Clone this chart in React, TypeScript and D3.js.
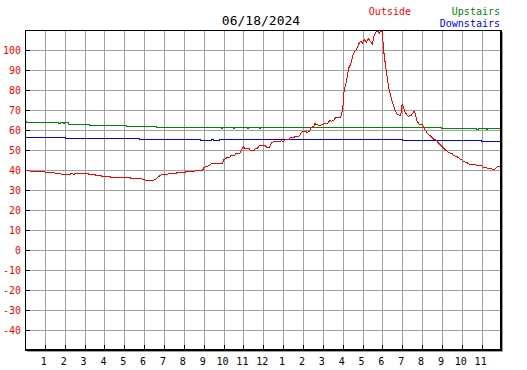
import React from "react";
import * as d3 from "d3";

const TITLE = "06/18/2024";
const hourLabels = ["1","2","3","4","5","6","7","8","9","10","11","12","1","2","3","4","5","6","7","8","9","10","11"];
const yTicks = [100, 90, 80, 70, 60, 50, 40, 30, 20, 10, 0, -10, -20, -30, -40];

// [hour of day, °F]
const outside: [number, number][] = [
  [0,39.8],[0.25,39.8],[0.3,39.2],[1.0,39.2],[1.05,38.7],[1.5,38.7],[1.55,38.2],[1.8,38.2],[1.85,37.7],[2.2,37.7],
  [2.3,38.2],[2.4,38.2],[2.45,37.7],[2.5,38.2],[3.2,38.2],[3.25,37.7],[3.55,37.7],[3.6,37.2],[3.85,37.2],[3.9,36.7],
  [4.3,36.7],[4.35,36.2],[5.3,36.2],[5.35,35.7],[5.9,35.7],[5.95,35.2],[6.05,35.2],[6.1,34.7],[6.4,34.7],[6.5,35.2],
  [6.6,35.7],[6.7,36.7],[6.85,37.7],[7.1,38.0],[7.3,38.3],[7.6,38.3],[7.65,38.8],[8.05,38.8],[8.1,39.3],[8.55,39.3],
  [8.6,40],[8.95,40],[9.0,41.2],[9.1,41.8],[9.3,42.5],[9.4,43.5],[9.7,43.5],[9.8,43.2],[9.95,43.2],[10.0,45.2],
  [10.15,46.2],[10.3,46.2],[10.35,47.2],[10.55,47.2],[10.6,48.3],[10.8,48.3],[10.9,50],[11.0,51.7],[11.1,50.8],[11.3,50.8],
  [11.35,49.8],[11.55,49.8],[11.6,50.8],[11.7,50.8],[11.8,52.5],[12.0,52.5],[12.1,52.2],[12.2,51.3],[12.3,51.3],[12.4,53.5],
  [12.5,54.2],[12.8,54.2],[12.9,54.7],[12.95,54.7],[13.0,54.2],[13.1,55.3],[13.3,55.3],[13.35,56.3],[13.55,56.3],[13.6,57],
  [13.8,57],[13.9,58.5],[14.0,59.5],[14.15,59.5],[14.2,59.0],[14.3,59.2],[14.4,61],[14.55,62.2],[14.6,63.3],[14.7,62.8],
  [14.8,62.5],[15.0,62.8],[15.1,63.3],[15.25,63.3],[15.35,65],[15.45,64.5],[15.55,65],[15.65,66.5],[15.9,66.5],[16.0,70.3],
  [16.07,79.5],[16.2,85],[16.3,91],[16.4,93],[16.5,97],[16.6,99.5],[16.7,100.5],[16.8,103],[16.9,104.5],[17.0,103.7],
  [17.1,105.3],[17.2,104],[17.3,105.8],[17.4,104.5],[17.5,103],[17.58,107],[17.68,109.2],[17.8,109.2],[17.85,108.7],[17.93,109.6],
  [18.0,109.6],[18.05,101],[18.15,93],[18.25,86],[18.33,81],[18.4,78],[18.5,74],[18.65,70],[18.75,68],[18.85,67.5],
  [18.92,67.5],[19.0,73.3],[19.05,72],[19.15,69],[19.3,67],[19.45,67.5],[19.6,69.5],[19.65,68.3],[19.75,64.5],[19.85,63],
  [20.0,63],[20.1,61],[20.3,58],[20.4,57.3],[20.6,55.5],[20.7,55.3],[20.8,54],[21.0,52],[21.2,50],[21.35,48.8],
  [21.5,48.5],[21.6,47.2],[21.75,47],[21.9,45.7],[22.0,45.3],[22.1,44.3],[22.25,44],[22.35,43.2],[22.6,42.7],[23.0,42.5],
  [23.05,41.7],[23.25,41.2],[23.3,40.8],[23.5,40.7],[23.6,40.3],[23.7,40.8],[23.8,41.8],[24.0,42]
];

const upstairs: [number, number][] = [
  [0,64.2],[0.1,63.7],[1.7,63.2],[1.78,63.7],[1.92,63.2],[1.98,63.7],[2.2,63.0],[3.25,62.5],[3.4,62.3],[5.1,61.8],
  [6.6,61.3],[9.9,60.8],[9.97,61.3],[10.5,60.8],[10.57,61.3],[11.2,60.8],[11.27,61.3],[11.8,60.8],[11.87,61.3],
  [21.0,60.8],[22.75,60.3],[22.82,60.8],[23.25,60.3],[23.32,60.8],[24,60.8]
];

const downstairs: [number, number][] = [
  [0,56.3],[2.05,55.8],[2.15,56.1],[2.22,55.8],[5.75,55.3],[8.85,54.8],[9.4,55.3],[9.5,54.8],[9.8,55.3],
  [19.0,54.8],[23.0,54.3],[24,54.3]
];

const W = 527, H = 370;
const FONT = "'DejaVu Sans Mono', monospace";

export default function App() {
  const x = d3.scaleLinear().domain([0, 24]).range([25, 501.5]);
  const y = d3.scaleLinear().domain([-50, 110]).range([350.3, 30.3]);
  const px = (v: number) => Math.round(v) + 0.5;

  const line = d3.line<[number, number]>().x(d => x(d[0])).y(d => y(d[1]));
  const stepLine = d3.line<[number, number]>().x(d => x(d[0])).y(d => y(d[1])).curve(d3.curveStepAfter);

  const hours = d3.range(1, 24);
  const gridVals = d3.range(-40, 110, 10);

  return (
    <svg width={W} height={H} style={{ position: "absolute", left: 0, top: 0, background: "#fff" }}>
      <rect x={0} y={0} width={W} height={H} fill="#fff" />
      {/* grid */}
      <g stroke="#a0a0a0" strokeWidth={1} shapeRendering="crispEdges">
        {hours.map(h => (
          <line key={"v" + h} x1={px(x(h))} x2={px(x(h))} y1={30} y2={350} />
        ))}
        {gridVals.map(v => (
          <line key={"h" + v} x1={25} x2={501} y1={px(y(v))} y2={px(y(v))} />
        ))}
      </g>
      {/* ticks */}
      <g stroke="#000" strokeWidth={1} shapeRendering="crispEdges">
        {yTicks.map(v => (
          <line key={"yt" + v} x1={25} x2={30} y1={px(y(v))} y2={px(y(v))} />
        ))}
        {hours.map(h => (
          <line key={"xt" + h} x1={px(x(h))} x2={px(x(h))} y1={345} y2={350} />
        ))}
      </g>
      {/* series */}
      <g fill="none" strokeWidth={1} shapeRendering="crispEdges">
        <path d={stepLine(upstairs) || ""} stroke="#008800" />
        <path d={stepLine(downstairs) || ""} stroke="#0000ff" />
        <path d={line(outside) || ""} stroke="#ff0000" />
      </g>
      {/* frame */}
      <g shapeRendering="crispEdges" fill="none">
        <line x1={25.5} x2={25.5} y1={30} y2={351} stroke="#000" />
        <line x1={25} x2={502} y1={30.5} y2={30.5} stroke="#000" />
        <line x1={501} x2={501} y1={30} y2={351} stroke="#000" strokeWidth={2} />
        <line x1={25} x2={502} y1={350} y2={350} stroke="#000" strokeWidth={2} />
        <line x1={502.5} x2={502.5} y1={32} y2={352} stroke="#a0a0a0" />
        <line x1={27} x2={503} y1={351.5} y2={351.5} stroke="#a0a0a0" />
      </g>
      {/* y labels */}
      <g fontFamily={FONT} fontSize={10} fill="#ff0000" textAnchor="end">
        {yTicks.map(v => (
          <text key={"yl" + v} x={21} y={y(v) + 3.8}>{v}</text>
        ))}
      </g>
      {/* x labels */}
      <g fontFamily={FONT} fontSize={10} fill="#000" textAnchor="middle">
        {hours.map((h, i) => (
          <text key={"xl" + h} x={x(h) - 1} y={365}>{hourLabels[i]}</text>
        ))}
      </g>
      {/* title & legend */}
      <text x={261} y={25} fontFamily={FONT} fontSize={13} textAnchor="middle" fill="#000">{TITLE}</text>
      <text x={411} y={15} fontFamily={FONT} fontSize={10} textAnchor="end" fill="#ff0000">Outside</text>
      <text x={500} y={15} fontFamily={FONT} fontSize={10} textAnchor="end" fill="#008800">Upstairs</text>
      <text x={500} y={27} fontFamily={FONT} fontSize={10} textAnchor="end" fill="#0000ff">Downstairs</text>
    </svg>
  );
}
